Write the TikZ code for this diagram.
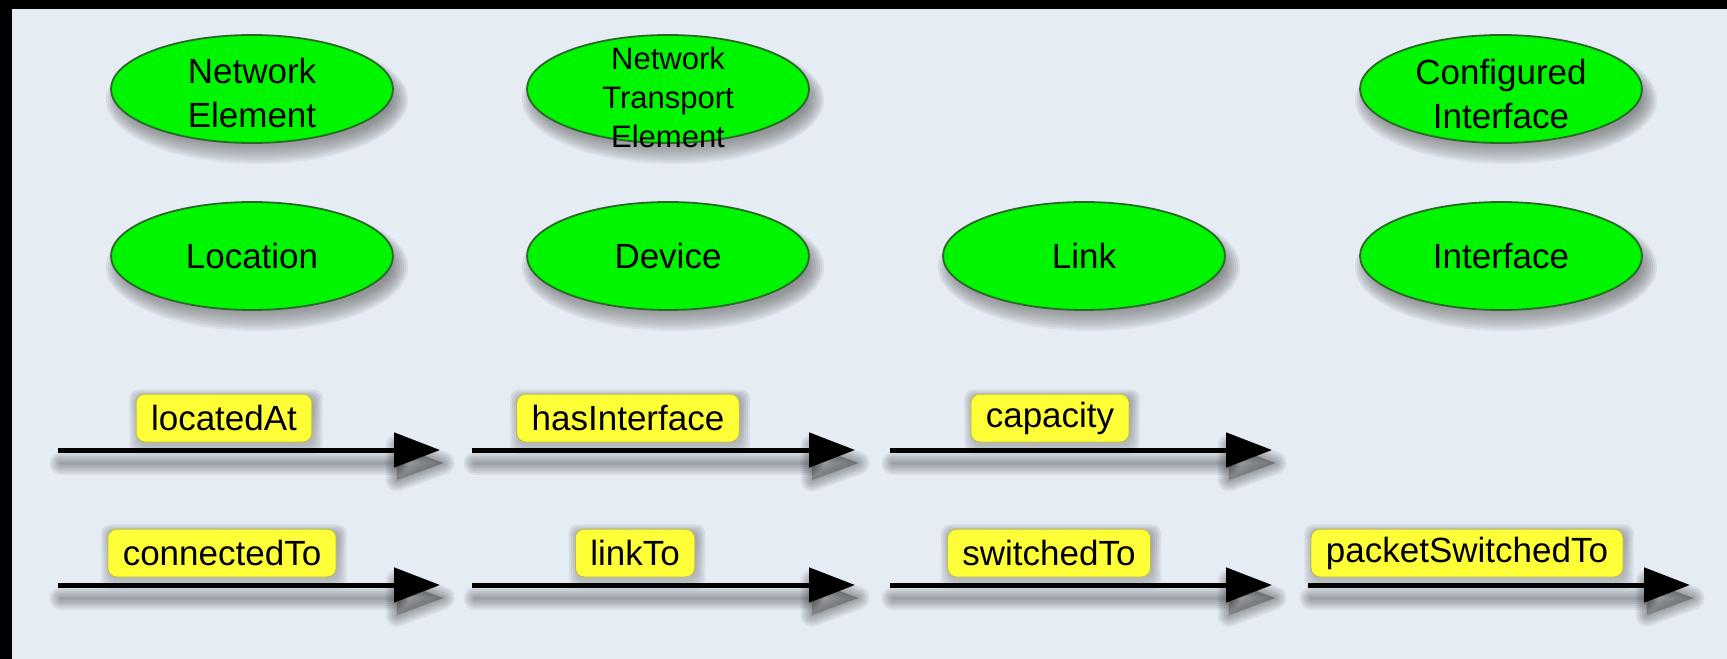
\documentclass[tikz,border=0pt]{standalone}
\usepackage{fontspec}
\setmainfont{Liberation Sans}
\usetikzlibrary{arrows.meta,calc,shapes.geometric}
\definecolor{bg}{RGB}{229,236,244}
\definecolor{nodegreen}{RGB}{0,245,0}
\definecolor{nodeedge}{RGB}{40,105,40}
\definecolor{tagyellow}{RGB}{255,255,55}
\definecolor{tagedge}{RGB}{185,185,95}
\definecolor{shade}{RGB}{40,40,60}
\pgfdeclarelayer{backdrop}
\pgfdeclarelayer{shadow}
\pgfsetlayers{backdrop,shadow,main}
\begin{document}
% one coordinate unit = half a point
\begin{tikzpicture}[x=0.5pt,y=-0.5pt,
  cls/.style={ellipse, draw=nodeedge, line width=0.9pt, fill=nodegreen,
    minimum width=141pt, minimum height=54pt, inner sep=0pt},
  clstext/.style={align=center, font=\fontsize{17.5}{22}\selectfont},
  tag/.style={rectangle, rounded corners=4.5pt, draw=tagedge, line width=0.5pt,
    fill=tagyellow, minimum height=24pt, inner xsep=7.5pt, inner ysep=0pt,
    font=\fontsize{17.5}{20}\selectfont},
  rel/.style={line width=2.5pt, -{Triangle[length=23pt,width=17pt]}},
  haze/.style={shade, opacity=#1}]

\useasboundingbox (0,0) rectangle (1727,658);

% class ellipses
\node[cls, label={[clstext, yshift=-2pt]center:Network\\Element}] (ne) at (252,89) {};
\node[cls, label={[align=center, font=\fontsize{15.5}{19.5}\selectfont, yshift=-4pt]center:Network\\Transport\\Element}] (nte) at (668,89) {};
\node[cls, label={[clstext, yshift=-2.5pt]center:Configured\\Interface}] (ci) at (1501,89) {};
\node[cls, label={[clstext]center:Location}] (loc) at (252,256) {};
\node[cls, label={[clstext]center:Device}] (dev) at (668,256) {};
\node[cls, label={[clstext]center:Link}] (lnk) at (1084,256) {};
\node[cls, label={[clstext]center:Interface}] (ifc) at (1501,256) {};

% relation arrows: ends
\coordinate (r1s) at (58,450);   \coordinate (r1e) at (440,450);
\coordinate (r2s) at (472,450);  \coordinate (r2e) at (855,450);
\coordinate (r3s) at (890,450);  \coordinate (r3e) at (1272,450);
\coordinate (r4s) at (58,585);   \coordinate (r4e) at (440,585);
\coordinate (r5s) at (472,585);  \coordinate (r5e) at (855,585);
\coordinate (r6s) at (890,585);  \coordinate (r6e) at (1272,585);
\coordinate (r7s) at (1308,585); \coordinate (r7e) at (1690,585);

% arrows
\foreach \a/\b in {r1s/r1e,r2s/r2e,r3s/r3e,r4s/r4e,r5s/r5e,r6s/r6e,r7s/r7e}
  \draw[rel] (\a) -- (\b);

% relation labels
\node[tag] (t1) at (224,418) {locatedAt};
\node[tag] (t2) at (628,418) {hasInterface};
\node[tag] (t3) at (1050,418) {capacity};
\node[tag] (t4) at (222,553) {connectedTo};
\node[tag] (t5) at (635,553) {linkTo};
\node[tag] (t6) at (1049,553) {switchedTo};
\node[tag] (t7) at (1467,553) {packetSwitchedTo};

% page background with the dark top and left bands
\begin{pgfonlayer}{backdrop}
  \fill[bg] (0,0) rectangle (1760,700);
  \fill[black] (0,0) rectangle (1760,9);
  \fill[black] (0,0) rectangle (12,700);
\end{pgfonlayer}

% soft drop shadows beneath the shapes
\begin{pgfonlayer}{shadow}
  \foreach \n in {ne,nte,ci,loc,dev,lnk,ifc}
    \foreach \k in {0,...,9}
      \fill[haze=0.05] ($(\n.center)+(5,11)$)
        ellipse [x radius={133+2*\k}, y radius={46+2*\k}];
  \foreach \a/\b in {r1s/r1e,r2s/r2e,r3s/r3e,r4s/r4e,r5s/r5e,r6s/r6e,r7s/r7e}
    \foreach \w in {1.5,3.5,5.5,7.5,9.5,11.5}{
      \draw[haze=0.06, line width=\w pt, line cap=round]
        ($(\a)+(3,13)$) -- ($(\b)+(-43,13)$);
      \filldraw[haze=0.06, line width=\w pt, line join=round]
        ($(\b)+(-43,-4)$) -- ($(\b)+(3,13)$) -- ($(\b)+(-43,30)$) -- cycle;
    }
  \foreach \n in {t1,t2,t3,t4,t5,t6,t7}
    \foreach \k in {0,...,4}
      \fill[haze=0.05, rounded corners=4.5pt]
        ($(\n.south west)+(2-2*\k,4+2*\k)$) rectangle ($(\n.north east)+(2+2*\k,4-2*\k)$);
\end{pgfonlayer}
\end{tikzpicture}
\end{document}
